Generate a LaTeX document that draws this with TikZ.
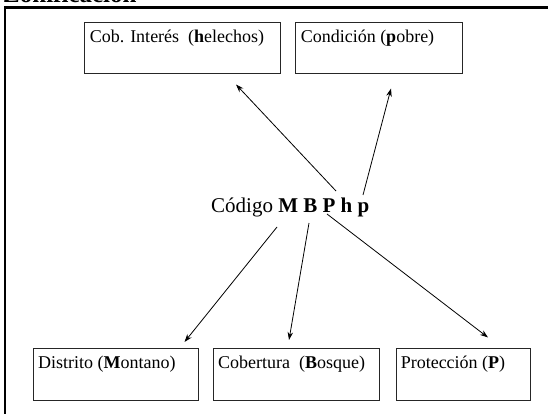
\documentclass[tikz,border=0pt]{standalone}
\usepackage{fontspec}
\setmainfont{Liberation Serif}
\usetikzlibrary{arrows.meta,calc}
\begin{document}
\begin{tikzpicture}[x=1pt,y=-1pt,
  boxnode/.style={draw=black!85,line width=0.9pt,rectangle,inner sep=0pt,minimum height=51pt},
  boxtext/.style={anchor=base west,inner sep=0pt,font=\fontsize{18}{21}\selectfont},
  conn/.style={line width=0.8pt,-{Stealth[length=8pt,width=5.5pt]}},
  framestyle/.style={line width=2.6pt}]
\clip (0,0) rectangle (548,414);
% partially visible heading
\node[anchor=base west,inner sep=0pt,font=\bfseries\fontsize{25}{30}\selectfont] (head) at (3,2.6) {Zonificación};
% frame
\draw[framestyle] (5,420) -- (5,7.7) -- (560,7.7);
% boxes
\node[boxnode,minimum width=196pt,minimum height=50.3pt] (hel) at (182,47.85) {};
\node[boxnode,minimum width=166.5pt,minimum height=50.3pt] (cond) at (378.75,47.85) {};
\node[boxnode,minimum width=165.5pt,minimum height=52pt] (dist) at (115.75,374) {};
\node[boxnode,minimum width=166pt,minimum height=52pt] (cob) at (296,374) {};
\node[boxnode,minimum width=134pt,minimum height=52pt] (prot) at (463,374) {};
% box texts
\node[boxtext] (helT) at ($(hel.north west)+(6,20.5)$) {Cob. Interés\ \ (\textbf{h}elechos)};
\node[boxtext] (condT) at ($(cond.north west)+(5.5,20.5)$) {Condición (\textbf{p}obre)};
\node[boxtext] (distT) at ($(dist.north west)+(5.3,21.3)$) {Distrito (\textbf{M}ontano)};
\node[boxtext] (cobT) at ($(cob.north west)+(5.3,21.3)$) {Cobertura\ \ (\textbf{B}osque)};
\node[boxtext] (protT) at ($(prot.north west)+(5,21.3)$) {Protección (\textbf{P})};
% centre code
\node[anchor=base west,inner sep=0pt,font=\fontsize{21}{25}\selectfont] (code) at (211,212) {Código \textbf{M B P h p}};
% connector end points
\coordinate (sHel) at (336,191);
\coordinate (eHel) at (236,84.5);
\coordinate (sCond) at (363,195);
\coordinate (eCond) at (391,88.5);
\coordinate (sDist) at (277,227);
\coordinate (eDist) at (184.5,342);
\coordinate (sCob) at (309,223);
\coordinate (eCob) at (289,340);
\coordinate (sProt) at (327,214);
\coordinate (eProt) at (488,337.5);
% connectors
\draw[conn] (sHel) -- (eHel);
\draw[conn] (sCond) -- (eCond);
\draw[conn] (sDist) -- (eDist);
\draw[conn] (sCob) -- (eCob);
\draw[conn] (sProt) -- (eProt);
\end{tikzpicture}
\end{document}
